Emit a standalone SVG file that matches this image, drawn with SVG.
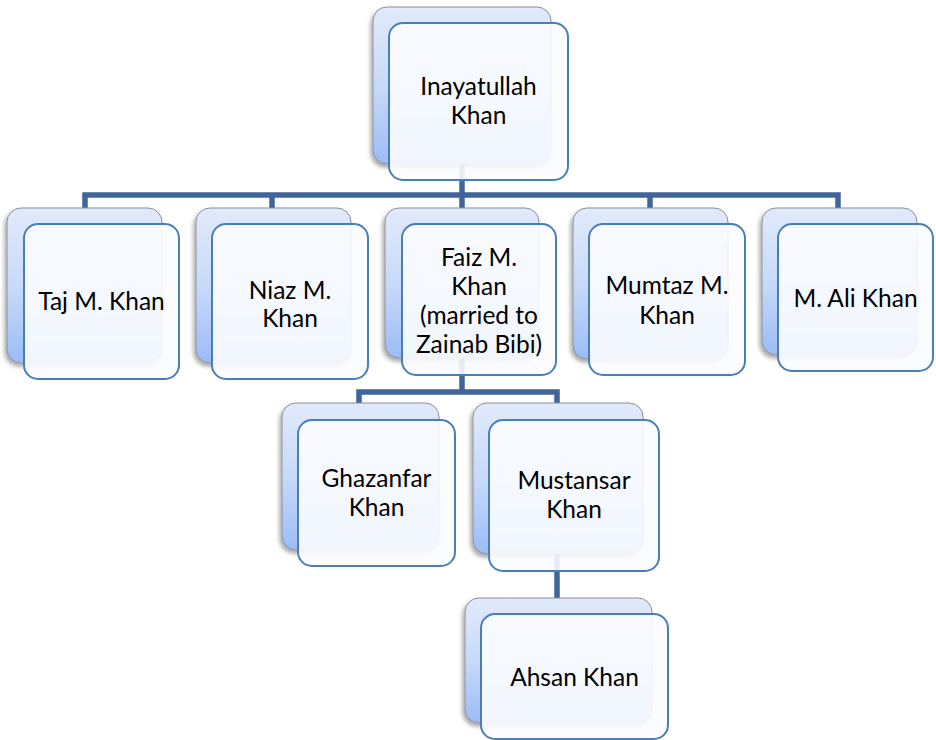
<svg xmlns="http://www.w3.org/2000/svg" width="936" height="740" viewBox="0 0 936 740">
<defs>
<linearGradient id="bg" x1="0" y1="0" x2="0" y2="1">
<stop offset="0" stop-color="#e1eafb"/>
<stop offset="0.5" stop-color="#c8daf9"/>
<stop offset="1" stop-color="#9bbcf6"/>
</linearGradient>
<filter id="sh" x="-10%" y="-10%" width="120%" height="125%">
<feDropShadow dx="-2" dy="3" stdDeviation="2" flood-color="#000" flood-opacity="0.35"/>
</filter>
</defs>
<style>
.back{fill:url(#bg);stroke:#8a8f99;stroke-width:1;filter:url(#sh)}
.front{fill:#fbfcff;fill-opacity:0.9;stroke:#4a7ebb;stroke-width:2}
.t{font-family:Lato,"Open Sans","Liberation Sans",sans-serif;font-size:24.5px;fill:#000;text-anchor:middle}
.c{fill:none;stroke:#41659a;stroke-width:5.5;stroke-linejoin:miter}
</style>
<rect width="936" height="740" fill="#fff"/>
<g id="connectors">
<path class="c" d="M462 164 V195"/>
<path class="c" d="M85 209 V195 H838 V209"/>
<path class="c" d="M272 195 V209 M462 195 V209 M650 195 V209"/>
<path class="c" d="M462 358 V392"/>
<path class="c" d="M359 404 V392 H557 V404"/>
<path class="c" d="M557 554 V599"/>
</g>
<g id="n-inayatullah">
<rect class="back" x="373" y="7" width="178" height="157" rx="14"/>
<rect class="front" x="389" y="23" width="179" height="157" rx="14"/>
<text class="t" x="478.5" y="95">Inayatullah</text>
<text class="t" x="478.5" y="124">Khan</text>
</g>
<g id="n-taj">
<rect class="back" x="7" y="208" width="155" height="155" rx="14"/>
<rect class="front" x="24" y="224" width="155" height="155" rx="14"/>
<text class="t" x="101.5" y="310">Taj M. Khan</text>
</g>
<g id="n-niaz">
<rect class="back" x="196" y="208" width="155" height="155" rx="14"/>
<rect class="front" x="212" y="224" width="156" height="155" rx="14"/>
<text class="t" x="290" y="299">Niaz M.</text>
<text class="t" x="290" y="327">Khan</text>
</g>
<g id="n-faiz">
<rect class="back" x="385" y="208" width="154" height="150" rx="14"/>
<rect class="front" x="402" y="224" width="154" height="151" rx="14"/>
<text class="t" x="479" y="266">Faiz M.</text>
<text class="t" x="479" y="295">Khan</text>
<text class="t" x="479" y="324">(married to</text>
<text class="t" x="479" y="353">Zainab Bibi)</text>
</g>
<g id="n-mumtaz">
<rect class="back" x="573" y="208" width="155" height="151" rx="14"/>
<rect class="front" x="589" y="224" width="156" height="151" rx="14"/>
<text class="t" x="667" y="294">Mumtaz M.</text>
<text class="t" x="667" y="324">Khan</text>
</g>
<g id="n-ali">
<rect class="back" x="762" y="208" width="155" height="147" rx="14"/>
<rect class="front" x="778" y="224" width="155" height="147" rx="14"/>
<text class="t" x="855.5" y="307">M. Ali Khan</text>
</g>
<g id="n-ghazanfar">
<rect class="back" x="282" y="403" width="157" height="147" rx="14"/>
<rect class="front" x="298" y="420" width="157" height="146" rx="14"/>
<text class="t" x="376.5" y="487">Ghazanfar</text>
<text class="t" x="376.5" y="516">Khan</text>
</g>
<g id="n-mustansar">
<rect class="back" x="473" y="403" width="170" height="151" rx="14"/>
<rect class="front" x="489" y="420" width="170" height="151" rx="14"/>
<text class="t" x="574" y="489">Mustansar</text>
<text class="t" x="574" y="518">Khan</text>
</g>
<g id="n-ahsan">
<rect class="back" x="465" y="598" width="187" height="125" rx="14"/>
<rect class="front" x="481" y="614" width="187" height="125" rx="14"/>
<text class="t" x="574.5" y="686">Ahsan Khan</text>
</g>
</svg>
